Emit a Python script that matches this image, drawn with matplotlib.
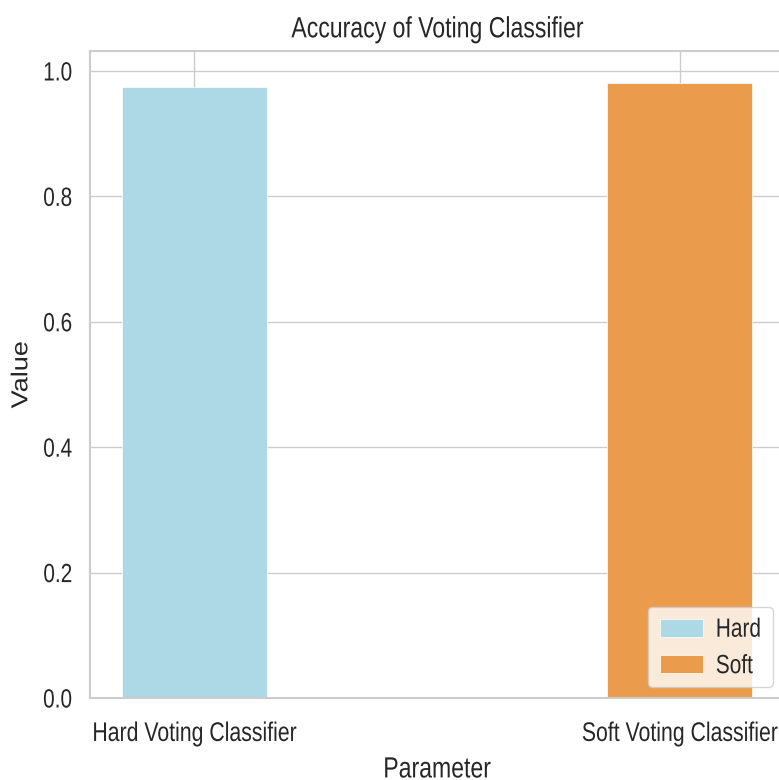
import numpy as np
import matplotlib
matplotlib.use('Agg')
import matplotlib.pyplot as plt
import seaborn as sns
from matplotlib.patheffects import AbstractPathEffect
from matplotlib.transforms import Affine2D

# data
methods = ['Hard Voting Classifier', 'Soft Voting Classifier']
labels = ['Hard', 'Soft']
accuracy = [0.974, 0.981]
colours = ['#ADD8E6', '#EB9B4C']


# the reference text looks condensed: stretch glyph runs about their centre
class Scale(AbstractPathEffect):
    def __init__(self, kx=1.0, ky=1.0):
        super().__init__()
        self.kx = kx
        self.ky = ky

    def draw_path(self, renderer, gc, tpath, affine, rgbFace=None):
        ext = tpath.get_extents(affine)
        cx = (ext.x0 + ext.x1) / 2
        cy = (ext.y0 + ext.y1) / 2
        t = affine + Affine2D().translate(-cx, -cy).scale(self.kx, self.ky).translate(cx, cy)
        renderer.draw_path(gc, tpath, t, rgbFace)


sns.set_theme(style='whitegrid')
plt.rcParams['font.family'] = ['Liberation Sans', 'DejaVu Sans']

fig = plt.figure(figsize=(7.79, 7.8), dpi=100)
ax = fig.add_axes([0.1155, 0.105, 0.8909, 0.8296])

x = np.arange(len(methods))
for i in range(len(methods)):
    ax.bar(x[i], accuracy[i], width=0.3, color=colours[i], label=labels[i],
           edgecolor='white', linewidth=0.5)

ax.set_xticks(x)
ax.set_xticklabels(methods, fontsize=15.3)
ax.tick_params(axis='x', pad=13)
ax.tick_params(axis='y', labelsize=15, pad=6.7)
ax.set_xlim(-0.215, 1.215)
ax.set_ylim(0, 1.032)
ax.set_xlabel('Parameter', fontsize=16.6, labelpad=10)
ax.set_ylabel('Value', fontsize=19.5, labelpad=6)
ax.set_title('Accuracy of Voting Classifier', fontsize=16.6, pad=11)
leg = ax.legend(loc='lower right', fontsize=15, handlelength=2.1,
                handleheight=0.96, borderaxespad=0.55, labelspacing=0.78,
                handletextpad=0.6, borderpad=0.55)
for s in ax.spines.values():
    s.set_color('0.8')
    s.set_linewidth(1.5)

tall = [Scale(ky=1.266)]
texts = ax.get_xticklabels() + ax.get_yticklabels() + leg.get_texts()
texts += [ax.title, ax.xaxis.label]
for t in texts:
    t.set_path_effects(tall)
ax.yaxis.label.set_path_effects([Scale(kx=0.85)])

fig.savefig('out.png', dpi=100)
